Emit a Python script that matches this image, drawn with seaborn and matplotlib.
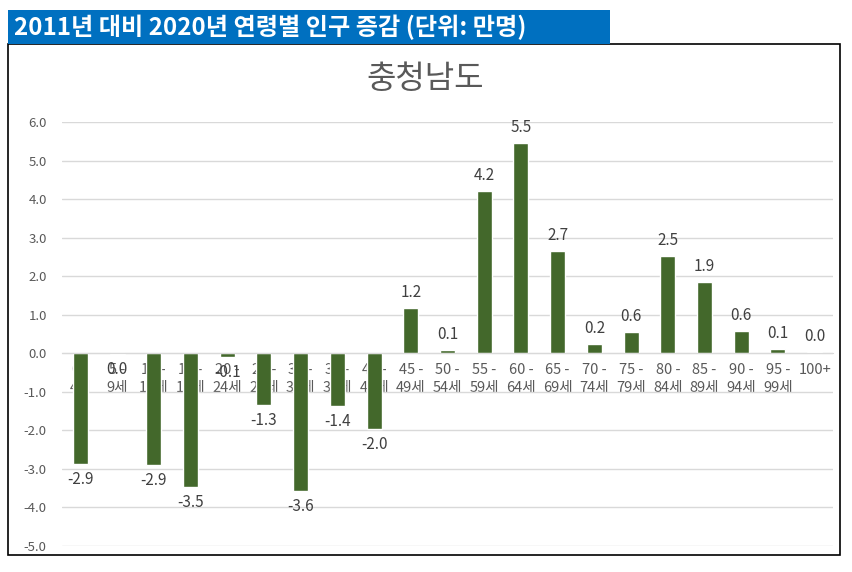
import seaborn as sns
import matplotlib.pyplot as plt
from matplotlib.patches import Rectangle

ages = ['0 -\n4세', '5 -\n9세', '10 -\n14세', '15 -\n19세', '20 -\n24세', '25 -\n29세',
        '30 -\n34세', '35 -\n39세', '40 -\n44세', '45 -\n49세', '50 -\n54세', '55 -\n59세',
        '60 -\n64세', '65 -\n69세', '70 -\n74세', '75 -\n79세', '80 -\n84세', '85 -\n89세',
        '90 -\n94세', '95 -\n99세', '100+']
change = [-2.88, -0.03, -2.91, -3.48, -0.1, -1.34, -3.58, -1.38, -1.97, 1.18, 0.08,
          4.21, 5.46, 2.66, 0.23, 0.56, 2.53, 1.86, 0.58, 0.11, 0.03]

sns.set_style('white')
plt.rcParams['font.family'] = ['Noto Sans CJK KR', 'DejaVu Sans']

fig = plt.figure(figsize=(8.53, 5.72), dpi=100)
ax = fig.add_axes([62 / 853, 1 - 546 / 572, 771 / 853, 424 / 572])

sns.barplot(x=ages, y=change, color='#43682B', saturation=1, width=0.41, ax=ax)

labels = ['0.0' if round(v, 1) == 0 else f'{v:.1f}' for v in change]
ax.bar_label(ax.containers[0], labels=labels, padding=5, fontsize=11, color='#404040')

ax.set_xlim(-0.5, 20.5)
ax.set_ylim(-5, 6)
ax.set_yticks(range(-5, 7))
ax.set_yticklabels([f'{t:.1f}' for t in range(-5, 7)])
ax.yaxis.grid(True, color='#d9d9d9', linewidth=1)
ax.set_axisbelow(True)
for s in ['top', 'right', 'left']:
    ax.spines[s].set_visible(False)
ax.spines['bottom'].set_position(('data', 0))
ax.spines['bottom'].set_color('#d9d9d9')
ax.tick_params(axis='y', length=0, pad=11, labelsize=9.5, labelcolor='#595959')
ax.tick_params(axis='x', length=0, pad=7, labelsize=10.5, labelcolor='#595959')
for t in ax.get_xticklabels():
    t.set_linespacing(1.35)
ax.set_xlabel('')
ax.set_ylabel('')

# chart border and header banner
fig.patches.append(Rectangle((8 / 853, 1 - 555 / 572), 832 / 853, 511 / 572,
                             transform=fig.transFigure, fill=False,
                             edgecolor='black', linewidth=1.2, zorder=0))
fig.patches.append(Rectangle((8 / 853, 1 - 44 / 572), 602 / 853, 34 / 572,
                             transform=fig.transFigure, facecolor='#0070C0',
                             edgecolor='none', zorder=0))
fig.text(14 / 853, 1 - 27 / 572, '2011년 대비 2020년 연령별 인구 증감 (단위: 만명)',
         color='white', fontsize=17.4, fontweight='bold', va='center', ha='left')
fig.text(425 / 853, 1 - 79 / 572, '충청남도', color='#595959', fontsize=23,
         ha='center', va='center')

plt.savefig('out.png', dpi=100)
